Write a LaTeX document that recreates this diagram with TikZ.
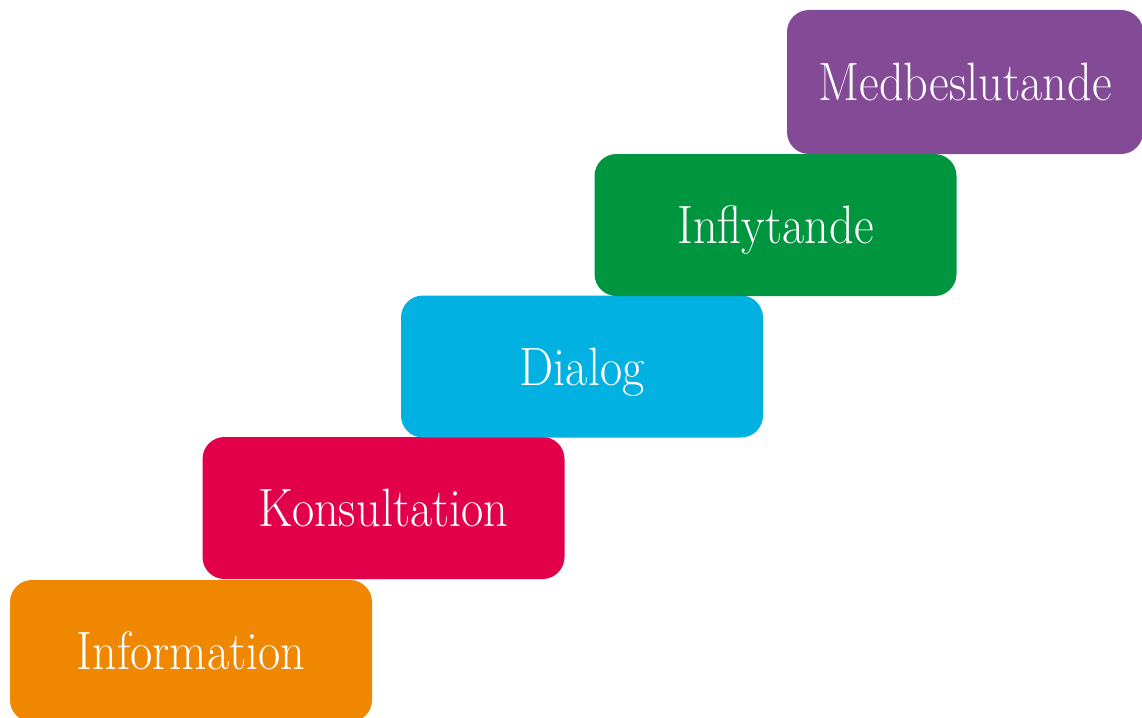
\documentclass[tikz,border=0pt]{standalone}
\usepackage{graphicx}
\usepackage{tikz}

\definecolor{infoorange}{HTML}{F08700}
\definecolor{konsred}{HTML}{E2004A}
\definecolor{dialogblue}{HTML}{00B1E2}
\definecolor{inflgreen}{HTML}{00963F}
\definecolor{medpurple}{HTML}{834A96}

\newcommand{\steplabel}[1]{\scalebox{0.895}[1]{#1}}

\begin{document}
\begin{tikzpicture}
			[x=1pt,y=-1pt,every node/.style={rounded corners=22pt,minimum width=362pt,minimum height=142pt,
			inner sep=0pt,text=white,text height=37pt,text depth=0pt,font=\fontsize{54}{60}\selectfont}]
			\useasboundingbox (0,0) rectangle (1142,717);
			\node[fill=infoorange] (info) at (191,651) {\steplabel{Information}};
			\node[fill=konsred] (kons) at (383.5,508) {\steplabel{Konsultation}};
			\node[fill=dialogblue] (dialog) at (582,366.5) {\steplabel{Dialog}};
			\node[fill=inflgreen] (infl) at (775.5,225) {\steplabel{Inflytande}};
			\node[fill=medpurple,minimum width=356pt,minimum height=144pt] (med) at (965,82) {\steplabel{Medbeslutande}};
			\end{tikzpicture}
\end{document}
